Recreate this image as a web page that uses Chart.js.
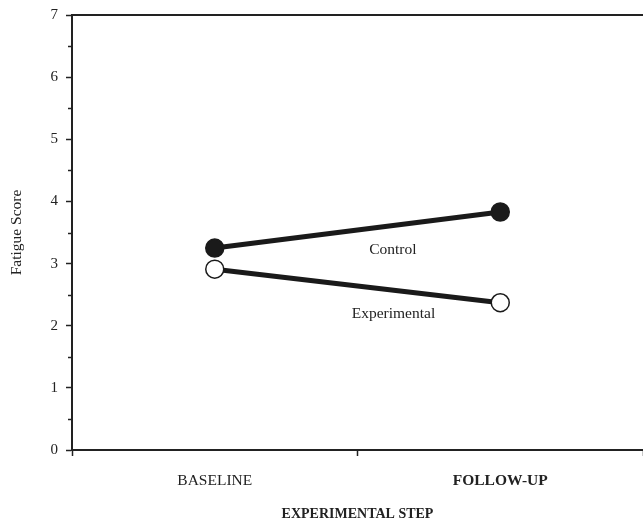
<!DOCTYPE html>
<html>
<head>
<meta charset="utf-8">
<script src="https://cdn.jsdelivr.net/npm/chart.js@4/dist/chart.umd.min.js"></script>
<style>
  html, body { margin: 0; padding: 0; background: #ffffff; }
  #wrap { width: 643px; height: 523px; }
</style>
</head>
<body>
<div id="wrap"><canvas id="c" width="643" height="523"></canvas></div>
<script>
const categories = ['BASELINE', 'FOLLOW-UP'];
const controlValues = [3.25, 3.83];
const experimentalValues = [2.91, 2.37];
const yTicks = [0, 1, 2, 3, 4, 5, 6, 7];
const yMinorTicks = [0.5, 1.5, 2.5, 3.5, 4.5, 5.5, 6.5];
const seriesLabels = ['Control', 'Experimental'];
// annotation anchors in data space: [category index (fractional), value]
const labelAnchors = [[0.624, 3.22], [0.626, 2.19]];

const FONT = '"Liberation Serif", "Times New Roman", serif';
const INK = '#222222';

const framePlugin = {
  id: 'frame',
  afterDraw(chart) {
    const ctx = chart.ctx;
    const ca = chart.chartArea;
    const ys = chart.scales.y;
    const xs = chart.scales.x;
    ctx.save();
    // top frame line
    ctx.strokeStyle = INK;
    ctx.lineWidth = 2;
    ctx.beginPath();
    ctx.moveTo(ca.left - 1, ys.getPixelForValue(7));
    ctx.lineTo(ca.right, ys.getPixelForValue(7));
    ctx.stroke();
    // minor ticks on y axis
    ctx.lineWidth = 1.5;
    yMinorTicks.forEach(v => {
      const py = Math.round(ys.getPixelForValue(v)) + 0.5;
      ctx.beginPath();
      ctx.moveTo(ca.left - 4, py);
      ctx.lineTo(ca.left, py);
      ctx.stroke();
    });
    // series annotations
    ctx.fillStyle = INK;
    ctx.font = '15.5px ' + FONT;
    ctx.textAlign = 'center';
    ctx.textBaseline = 'middle';
    labelAnchors.forEach((a, i) => {
      ctx.fillText(seriesLabels[i], xs.getPixelForValue(a[0]), ys.getPixelForValue(a[1]));
    });
    ctx.restore();
  }
};

new Chart(document.getElementById('c'), {
  type: 'line',
  data: {
    labels: categories,
    datasets: [
      {
        label: seriesLabels[0],
        data: controlValues,
        borderColor: '#1a1a1a',
        borderWidth: 5,
        backgroundColor: '#1a1a1a',
        pointBackgroundColor: '#1a1a1a',
        pointBorderColor: '#1a1a1a',
        pointBorderWidth: 1.5,
        pointRadius: 9,
        tension: 0,
        clip: false
      },
      {
        label: seriesLabels[1],
        data: experimentalValues,
        borderColor: '#1a1a1a',
        borderWidth: 5,
        backgroundColor: '#ffffff',
        pointBackgroundColor: '#ffffff',
        pointBorderColor: '#1a1a1a',
        pointBorderWidth: 1.5,
        pointRadius: 9,
        tension: 0,
        clip: false
      }
    ]
  },
  options: {
    responsive: false,
    animation: false,
    devicePixelRatio: 1,
    layout: { autoPadding: false, padding: { top: 15, right: 0, left: 0, bottom: 0 } },
    plugins: {
      legend: { display: false },
      tooltip: { enabled: false }
    },
    scales: {
      x: {
        type: 'category',
        offset: true,
        grid: {
          offset: true,
          drawOnChartArea: false,
          drawTicks: true,
          tickLength: 6,
          tickWidth: 1.5,
          tickColor: INK
        },
        border: { display: true, color: INK, width: 2 },
        ticks: {
          color: INK,
          font: (ctx) => ({ family: FONT, size: 15.5, weight: ctx.index === 1 ? 'bold' : 'normal' }),
          padding: 16,
          maxRotation: 0
        },
        title: {
          display: true,
          text: 'EXPERIMENTAL STEP',
          color: INK,
          font: { family: FONT, size: 14, weight: 'bold' },
          padding: { top: 0, bottom: 0 }
        },
        afterFit(scale) {
          scale.height = 73;
          scale.paddingLeft = 0;
          scale.paddingRight = 0;
        }
      },
      y: {
        type: 'linear',
        min: 0,
        max: 7,
        afterBuildTicks(scale) { scale.ticks = yTicks.map(v => ({ value: v })); },
        grid: {
          drawOnChartArea: false,
          drawTicks: true,
          tickLength: 6,
          tickWidth: 1.5,
          tickColor: INK
        },
        border: { display: true, color: INK, width: 2 },
        ticks: {
          color: INK,
          font: { family: FONT, size: 15 },
          padding: 8
        },
        title: {
          display: true,
          text: 'Fatigue Score',
          color: INK,
          font: { family: FONT, size: 15.5 },
          padding: { top: 8, bottom: 0 }
        },
        afterFit(scale) {
          scale.width = 72;
          scale.paddingTop = 0;
          scale.paddingBottom = 0;
        }
      }
    }
  },
  plugins: [framePlugin]
});
</script>
</body>
</html>
